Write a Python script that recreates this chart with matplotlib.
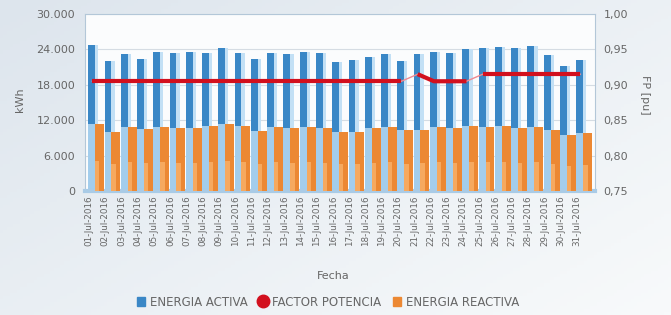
import numpy as np
import matplotlib
matplotlib.use("Agg")
import matplotlib.pyplot as plt
from matplotlib.patches import Patch
from matplotlib.lines import Line2D
from matplotlib.ticker import FuncFormatter

# daily values, July 2016
days = np.arange(1, 32)
fechas = ["%02d-Jul-2016" % d for d in days]
energia_activa = [24750, 22000, 23170, 22350, 23500, 23330, 23500, 23330, 24270, 23330,
                  22340, 23330, 23170, 23530, 23330, 21800, 22200, 22770, 23170, 21980,
                  23170, 23620, 23330, 24010, 24180, 24350, 24180, 24630, 23050, 21240,
                  22200]
energia_reactiva = [11360, 10050, 10790, 10450, 10900, 10620, 10620, 11020, 11360, 11020,
                    10220, 10900, 10620, 10900, 10620, 10050, 10050, 10620, 10900, 10340,
                    10400, 10790, 10620, 11020, 10790, 11020, 10620, 10900, 10340, 9490,
                    9880]
factor_potencia = [0.905] * 20 + [0.915] + [0.905] * 3 + [0.915] * 7

c_blue = "#3a87c6"
c_blue_pale = "#a3cdec"
c_blue_side = "#c3e0f5"
c_orange = "#ec8833"
c_orange_lt = "#f6a95f"
c_red = "#d2101e"
c_text = "#666666"

fig = plt.figure(figsize=(6.71, 3.15), dpi=100)

# soft background gradient
bg = fig.add_axes([0, 0, 1, 1], zorder=-10)
gx, gy = np.meshgrid(np.linspace(0, 1, 200), np.linspace(0, 1, 100))
g = 0.55 * gx + 0.45 * gy
bg.imshow(g, cmap=matplotlib.colors.LinearSegmentedColormap.from_list(
    "bg", ["#dde5ed", "#f8fafb"]), aspect="auto", extent=[0, 1, 0, 1])
bg.axis("off")

ax = fig.add_axes([85 / 671, 1 - 191 / 315, 510 / 671, 177 / 315])
ax.set_facecolor("#fbfcfd")

act = np.array(energia_activa)
rea = np.array(energia_reactiva)

# 3D-ish bars: pale lower part, dark upper part, light side, orange in front
ax.bar(days - 0.05, rea, width=0.42, align="edge", color=c_blue_pale, zorder=2)
ax.bar(days - 0.05, act - rea, bottom=rea, width=0.42, align="edge", color=c_blue, zorder=2)
ax.bar(days + 0.37, act, width=0.2, align="edge", color=c_blue_side, zorder=2)
ax.bar(days + 0.37, rea, width=0.55, align="edge", color=c_orange, zorder=3)
ax.bar(days + 0.37, rea * 0.45, width=0.27, align="edge", color=c_orange_lt, zorder=3)

ax.set_xlim(0.75, 32.1)
ax.set_ylim(0, 30000)
ax.set_yticks(np.arange(0, 30001, 6000))
ax.yaxis.set_major_formatter(FuncFormatter(lambda v, p: ("%d" % v) if v == 0 else "{:,.0f}".format(v).replace(",", ".")))
ax.grid(axis="y", color="#d5dce3", lw=0.8, zorder=0)
ax.set_xticks(days)
ax.set_xticklabels(fechas, rotation=90, fontsize=6.3, color=c_text)
ax.tick_params(axis="both", length=0, labelcolor=c_text)
ax.tick_params(axis="y", labelsize=8, pad=7)
ax.tick_params(axis="x", pad=3)
for s in ax.spines.values():
    s.set_color("#b3c7d8")
ax.spines["bottom"].set_linewidth(3)
ax.spines["bottom"].set_color("#a9cbe6")

ax2 = ax.twinx()
ax2.set_ylim(0.75, 1.0)
ax2.set_yticks(np.arange(0.75, 1.001, 0.05))
ax2.yaxis.set_major_formatter(FuncFormatter(lambda v, p: ("%.2f" % v).replace(".", ",")))
ax2.tick_params(axis="y", length=0, labelsize=8, labelcolor=c_text, pad=6)
for s in ax2.spines.values():
    s.set_visible(False)

fp = np.array(factor_potencia)
xl = days + 0.2
ax2.plot(xl, fp, color="#f08a92", lw=1, zorder=5)
for a, b in [(0, 20), (20, 24), (24, 31)]:
    ax2.plot(xl[a:b], fp[a:b], color=c_red, lw=3, solid_capstyle="butt", zorder=6)

fig.text(20 / 671, 1 - 100 / 315, "kWh", rotation=90, ha="center", va="center",
         fontsize=8, color=c_text)
fig.text(645 / 671, 1 - 95 / 315, "FP [pu]", rotation=270, ha="center", va="center",
         fontsize=8, color=c_text)
fig.text(333 / 671, 1 - 276 / 315, "Fecha", ha="center", va="center",
         fontsize=8, color=c_text)

handles = [Patch(color=c_blue), Line2D([], [], color=c_red, marker="o", ls="none", ms=9),
           Patch(color=c_orange)]
fig.legend(handles, ["ENERGIA ACTIVA", "FACTOR POTENCIA", "ENERGIA REACTIVA"],
           loc="center", bbox_to_anchor=(328 / 671, 1 - 302 / 315), ncol=3, frameon=False,
           fontsize=8.5, labelcolor=c_text, handlelength=0.7, handleheight=0.7,
           handletextpad=0.4, columnspacing=1.0)

fig.savefig("out.png", dpi=100)
